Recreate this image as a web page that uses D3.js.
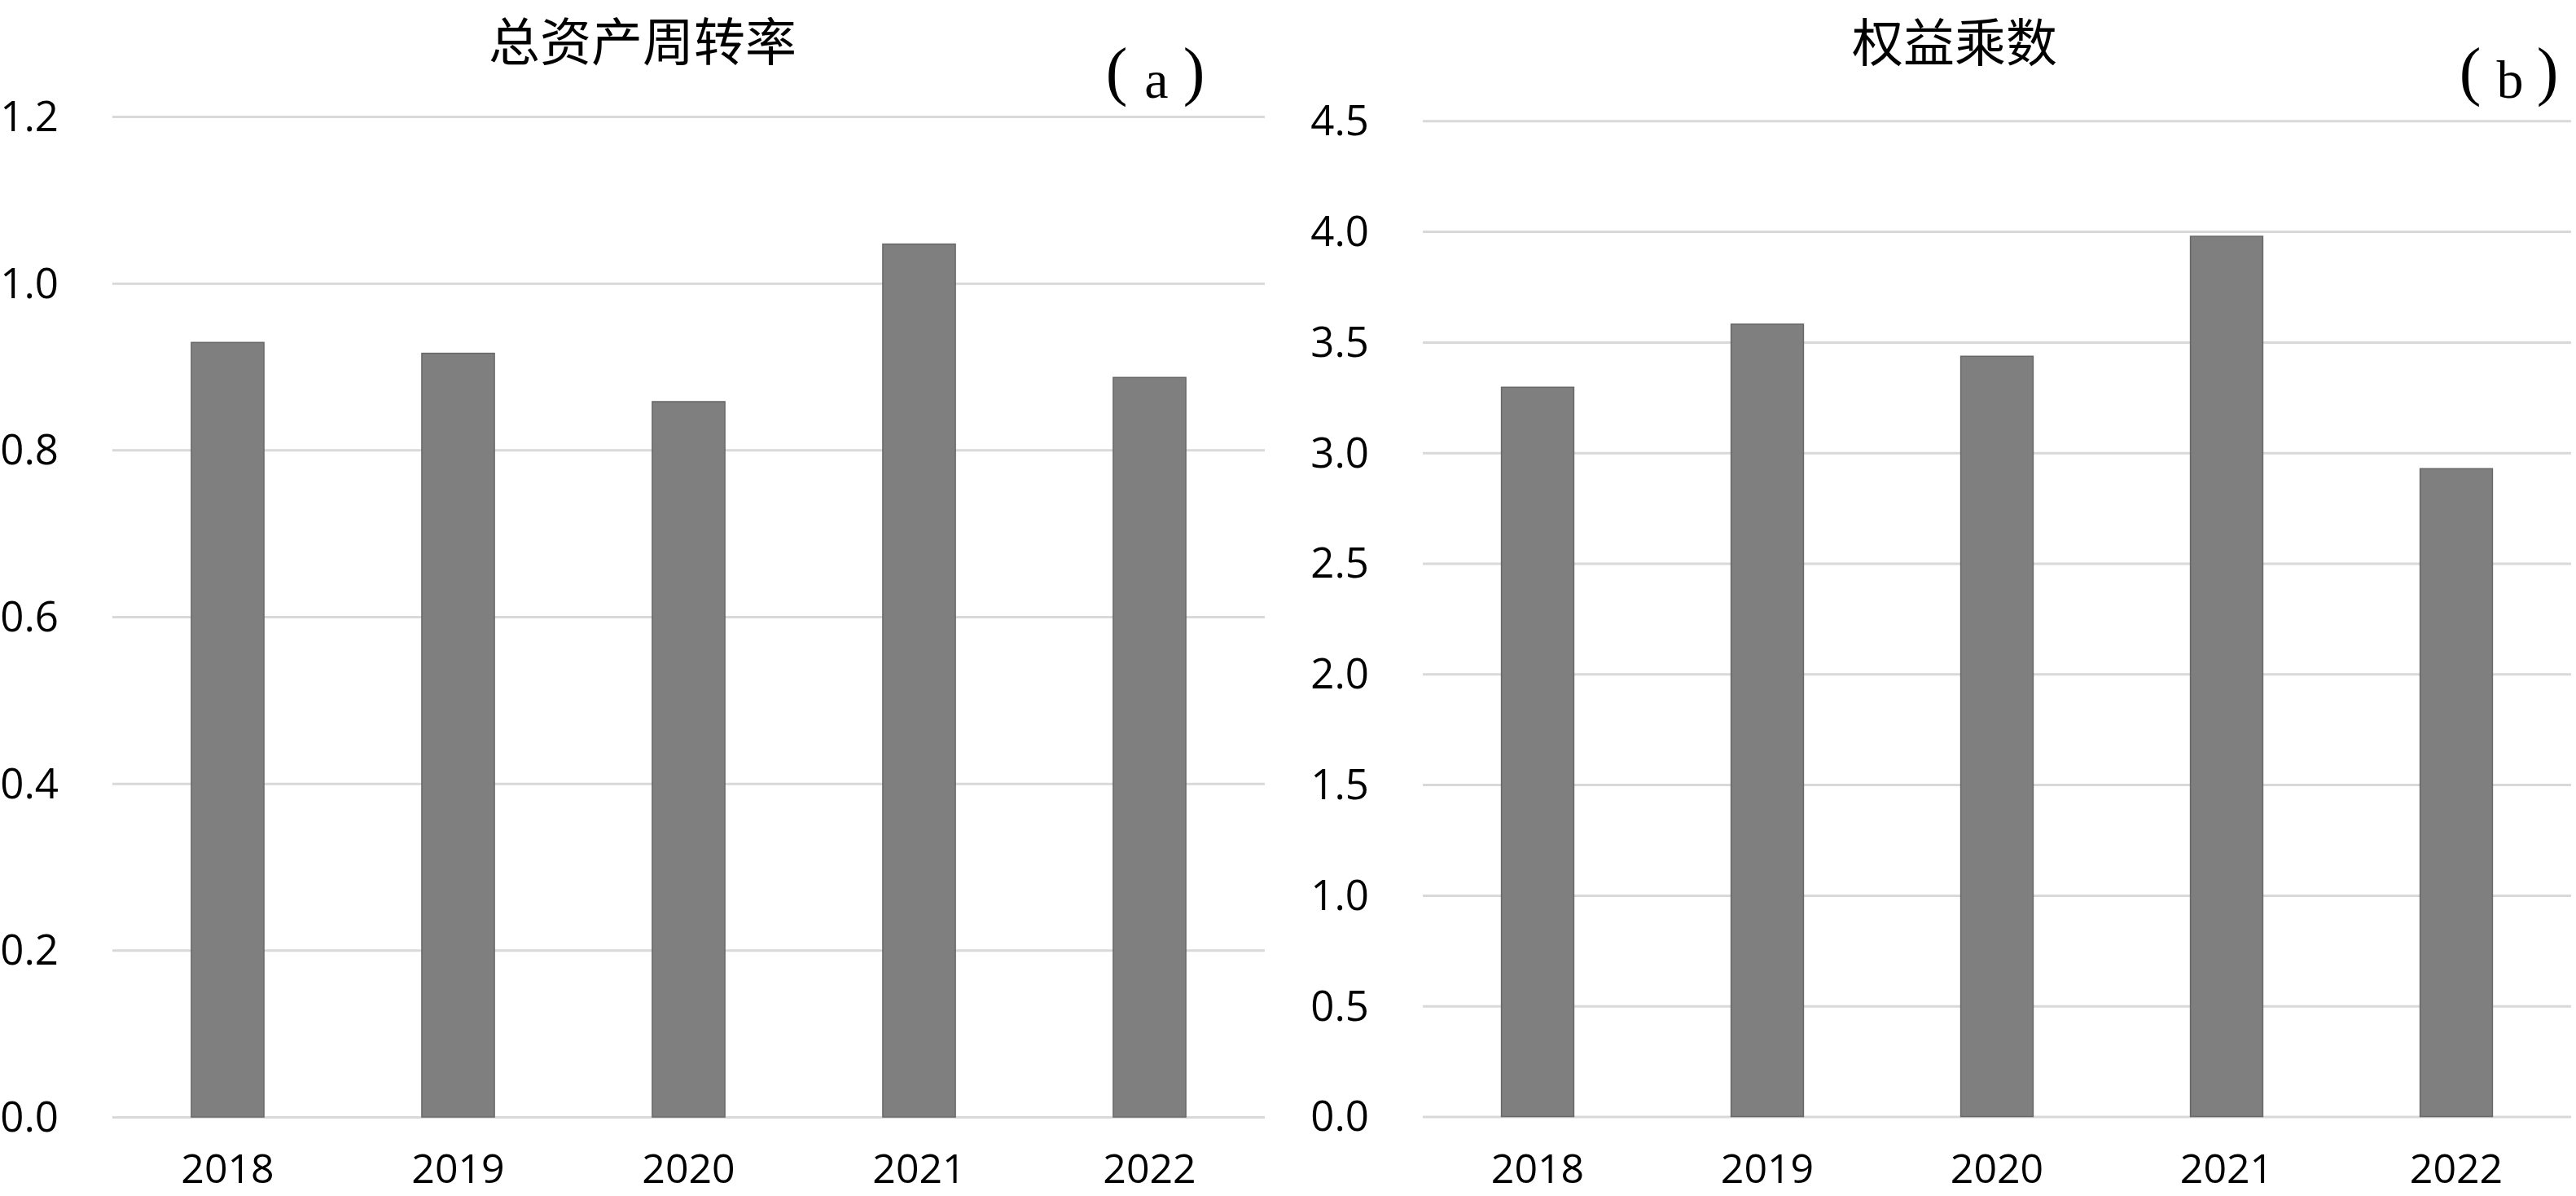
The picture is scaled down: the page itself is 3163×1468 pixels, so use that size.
<!DOCTYPE html>
<html><head><meta charset="utf-8">
<script src="https://cdn.jsdelivr.net/npm/d3@7"></script>
<style>
html,body{margin:0;padding:0;background:#fff;}
svg{display:block;}
</style></head>
<body>
<svg id="chart" width="3163" height="1468"></svg>
<script>
const years = ["2018","2019","2020","2021","2022"];
const assetTurnover = [0.929, 0.916, 0.858, 1.047, 0.887];
const equityMultiplier = [3.296, 3.581, 3.436, 3.978, 2.928];
const ticksA = [0, 0.2, 0.4, 0.6, 0.8, 1.0, 1.2];
const ticksB = [0, 0.5, 1.0, 1.5, 2.0, 2.5, 3.0, 3.5, 4.0, 4.5];
const titleA = "总资产周转率";
const titleB = "权益乘数";
const tagA = "a";
const tagB = "b";

const svg = d3.select("#chart");
const labelFont = "'Open Sans', 'Liberation Sans', sans-serif";
const cjkFont = "'Noto Sans CJK SC', sans-serif";
const serifFont = "'Liberation Serif', 'DejaVu Serif', serif";

function panel(cfg) {
  const g = svg.append("g");
  const x = d3.scaleBand().domain(years).range([cfg.x0, cfg.x1]).paddingInner(0.685).paddingOuter(0.3425);
  const y = d3.scaleLinear().domain([0, cfg.max]).range([cfg.yBottom, cfg.yTop]);

  // gridlines
  g.append("g")
    .attr("transform", `translate(${cfg.x0},0)`)
    .call(d3.axisLeft(y).tickValues(cfg.ticks).tickSize(-(cfg.x1 - cfg.x0)).tickFormat(""))
    .call(s => s.select(".domain").remove())
    .call(s => s.selectAll(".tick line").attr("stroke", "#d9d9d9").attr("stroke-width", 3));

  // y labels
  g.append("g")
    .selectAll("text").data(cfg.ticks).join("text")
    .attr("x", cfg.x0 - 66)
    .attr("y", d => y(d))
    .attr("dy", "0.35em")
    .attr("text-anchor", "end")
    .attr("font-family", labelFont)
    .attr("font-size", 51)
    .attr("fill", "#000")
    .text(d => d3.format(".1f")(d));

  // bars
  g.append("g")
    .selectAll("rect").data(cfg.values).join("rect")
    .attr("x", (d, i) => x(years[i]))
    .attr("width", x.bandwidth())
    .attr("y", d => y(d))
    .attr("height", d => y(0) - y(d))
    .attr("fill", "#7f7f7f")
    .attr("stroke", "#686868")
    .attr("stroke-width", 1.5);

  // x labels
  g.append("g")
    .selectAll("text").data(years).join("text")
    .attr("x", d => x(d) + x.bandwidth() / 2)
    .attr("y", 1452)
    .attr("text-anchor", "middle")
    .attr("font-family", labelFont)
    .attr("font-size", 50)
    .attr("fill", "#000")
    .text(d => d);

  // title
  g.append("text")
    .attr("x", cfg.titleX)
    .attr("y", cfg.titleY)
    .attr("text-anchor", "middle")
    .attr("font-family", cjkFont)
    .attr("font-size", 63)
    .attr("fill", "#000")
    .text(cfg.title);

  // tag (a)/(b)
  const t = g.append("g").attr("font-family", serifFont).attr("fill", "#000").attr("text-anchor", "middle");
  t.append("text").attr("x", cfg.tagX - 49).attr("y", 114).attr("font-size", 80).text("(");
  t.append("text").attr("x", cfg.tagX).attr("y", 120).attr("font-size", 66).text(cfg.tag);
  t.append("text").attr("x", cfg.tagX + 46).attr("y", 114).attr("font-size", 80).text(")");
}

panel({x0: 138, x1: 1553, yTop: 143, yBottom: 1371, max: 1.2, ticks: ticksA, values: assetTurnover,
       title: titleA, titleX: 789, titleY: 74, tag: tagA, tagX: 1420});
panel({x0: 1747, x1: 3157, yTop: 148.3, yBottom: 1370.5, max: 4.5, ticks: ticksB, values: equityMultiplier,
       title: titleB, titleX: 2400, titleY: 75, tag: tagB, tagX: 3082});
</script>
</body></html>
